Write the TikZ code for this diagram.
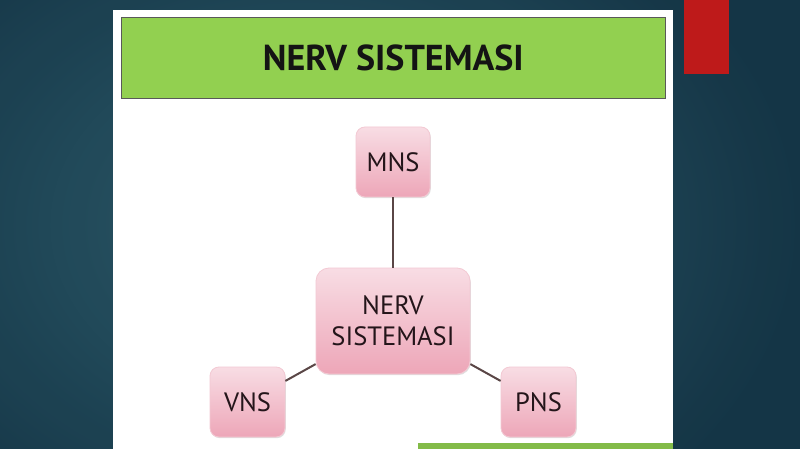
\documentclass[tikz,border=0pt]{standalone}
\usepackage{fontspec}
\setmainfont{PT Sans}
\usetikzlibrary{shadows}
\definecolor{bgin}{HTML}{2F5F6E}
\definecolor{bgout}{HTML}{143445}
\definecolor{hdr}{HTML}{92D050}
\definecolor{pinktop}{HTML}{F8DDE4}
\definecolor{pinkbot}{HTML}{EDA6B8}
\definecolor{pinkedge}{HTML}{F3C9D3}
\definecolor{linec}{HTML}{5A4646}
\definecolor{redbar}{HTML}{BE1A1A}
\definecolor{txt}{HTML}{24151A}
\tikzset{
  px/.style={x=1pt,y=-1pt},
  pinkbox/.style={draw=pinkedge, line width=0.8pt, rounded corners=9pt,
    top color=pinktop, bottom color=pinkbot, text=txt,
    font=\fontsize{26.5}{31}\selectfont, align=center, inner sep=0pt,
    drop shadow={shadow xshift=0.8pt, shadow yshift=-1.2pt, opacity=0.25}},
  conn/.style={draw=linec, line width=2pt}
}
\begin{document}
\begin{tikzpicture}[px]
\useasboundingbox (0,0) rectangle (800,449);
\fill[bgout!70!bgin] (0,0) rectangle (800,449);
\shade[inner color=bgin, outer color=bgout, opacity=0.9] (-200,-150) rectangle (800,600);
% slide
\fill[white] (113,10) rectangle (673,449);
% header
\node[draw=black!65, line width=0.6pt, fill=hdr, minimum width=544pt, minimum height=81pt,
  anchor=north west, inner sep=0pt, font=\fontsize{36}{40}\selectfont\bfseries, text=black!92]
  (title) at (121,17) {NERV SISTEMASI};
% red bar
\fill[redbar] (684,0) rectangle (729,74);
% bottom strip
\fill[hdr!90!black] (418,443) rectangle (673,449);
% nodes
\node[pinkbox, minimum width=74pt, minimum height=70pt] (mns) at (393,162) {MNS};
\node[pinkbox, rounded corners=13pt, minimum width=154pt, minimum height=106pt] (c) at (393,321) {NERV\\SISTEMASI};
\node[pinkbox, minimum width=75pt, minimum height=70pt] (v) at (247.5,402) {VNS};
\node[pinkbox, minimum width=75pt, minimum height=70pt] (p) at (538.5,402) {PNS};
% connectors
\draw[conn] (mns) -- (c);
\draw[conn] (c) -- (v);
\draw[conn] (c) -- (p);
\end{tikzpicture}
\end{document}
